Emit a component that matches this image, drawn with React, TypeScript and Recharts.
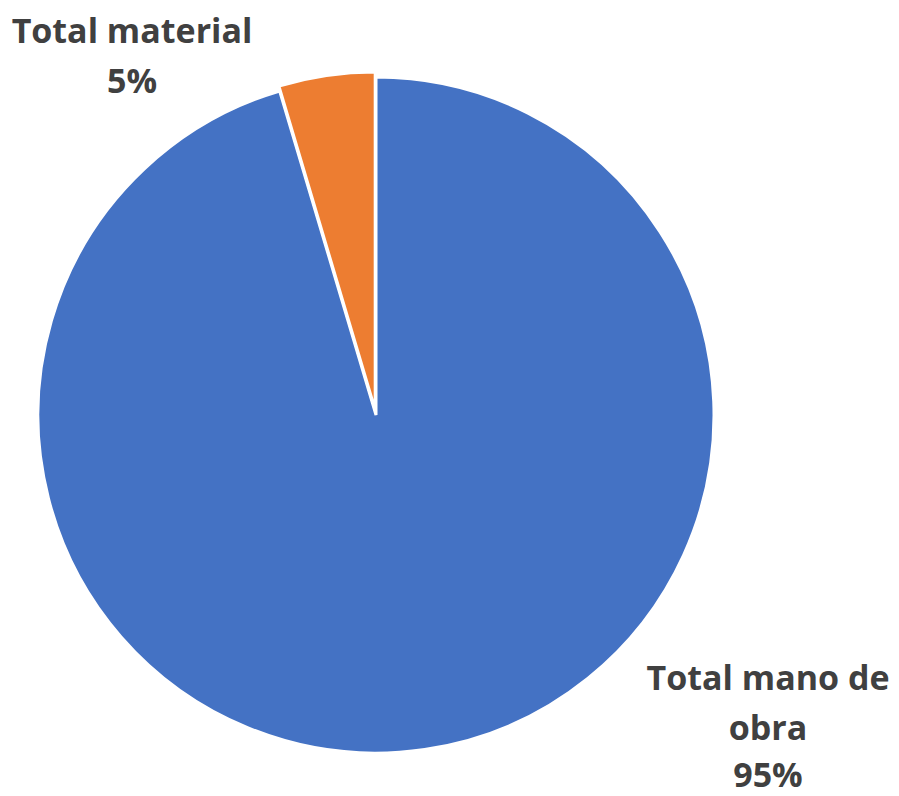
import React from "react";
import { PieChart, Pie, Cell } from "recharts";

const categories = ["Total mano de obra", "Total material"];
const values = [95.4, 4.6];
const percentLabels = ["95%", "5%"];
const colors = ["#4472C4", "#ED7D31"];

const data = categories.map((name, i) => ({ name, value: values[i] }));

const TEXT_COLOR = "#404040";
const FONT = "'Open Sans', 'Noto Sans', sans-serif";

const renderLabel = (props: any) => {
  const { cx, cy, index } = props;
  if (index === 0) {
    const x = cx + 392;
    return (
      <text x={x} y={cy + 275} textAnchor="middle" fill={TEXT_COLOR} fontFamily={FONT} fontWeight={700} fontSize={34}>
        <tspan x={x} dy={0}>Total mano de</tspan>
        <tspan x={x} dy={50}>obra</tspan>
        <tspan x={x} dy={47}>{percentLabels[0]}</tspan>
      </text>
    );
  }
  const x = cx - 244;
  return (
    <text x={x} y={cy - 372} textAnchor="middle" fill={TEXT_COLOR} fontFamily={FONT} fontWeight={700} fontSize={34}>
      <tspan x={x} dy={0}>Total material</tspan>
      <tspan x={x} dy={50}>{percentLabels[1]}</tspan>
    </text>
  );
};

export default function App() {
  return (
    <div style={{ position: "absolute", left: 0, top: 0, width: 899, height: 796, background: "#fff" }}>
      <PieChart width={899} height={796} margin={{ top: 0, right: 0, bottom: 0, left: 0 }}>
        <Pie
          data={data}
          dataKey="value"
          nameKey="name"
          cx={376}
          cy={415}
          outerRadius={338}
          startAngle={90}
          endAngle={-270}
          stroke="#ffffff"
          strokeWidth={3}
          isAnimationActive={false}
          labelLine={false}
          label={renderLabel}
        >
          {data.map((d, i) => (
            <Cell key={d.name} fill={i === 0 ? colors[0] : "transparent"} stroke={i === 0 ? "#ffffff" : "none"} />
          ))}
        </Pie>
        <Pie
          data={data}
          dataKey="value"
          nameKey="name"
          cx={375.2}
          cy={410}
          outerRadius={338}
          startAngle={90}
          endAngle={-270}
          stroke="#ffffff"
          strokeWidth={3}
          isAnimationActive={false}
          labelLine={false}
        >
          {data.map((d, i) => (
            <Cell key={d.name} fill={i === 1 ? colors[1] : "transparent"} stroke={i === 1 ? "#ffffff" : "none"} />
          ))}
        </Pie>
      </PieChart>
    </div>
  );
}
